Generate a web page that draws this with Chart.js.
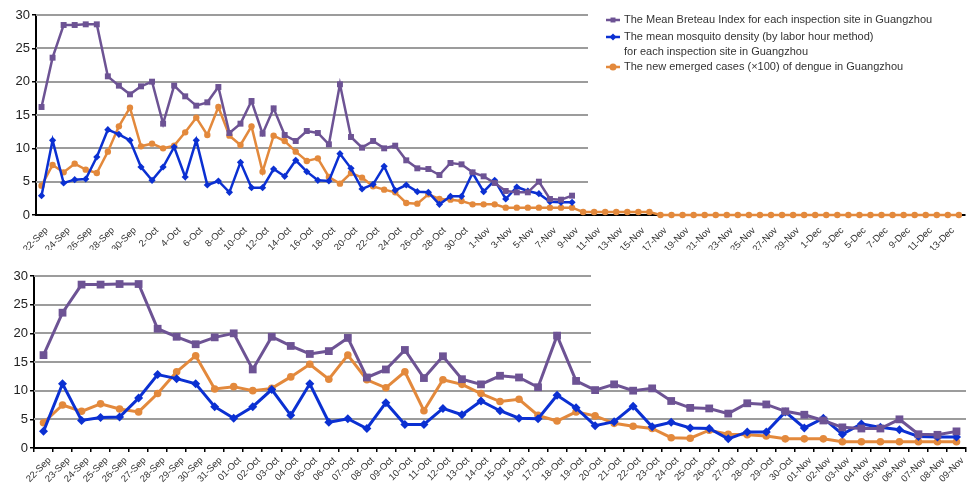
<!DOCTYPE html>
<html>
<head>
<meta charset="utf-8">
<script src="https://cdn.jsdelivr.net/npm/chart.js@4.4.1/dist/chart.umd.min.js"></script>
<style>
  body { margin: 0; background: #fff; }
  #top { position: absolute; left: 0; top: 0; width: 973px; height: 250px; }
  #bottom { position: absolute; left: 0; top: 250px; width: 973px; height: 244px; }
</style>
</head>
<body>
<div id="top"><canvas id="topChart"></canvas></div>
<div id="bottom"><canvas id="bottomChart"></canvas></div>
<script>
// categories of the upper (full period) panel
const topDates = [
  "22-Sep","23-Sep","24-Sep","25-Sep","26-Sep","27-Sep","28-Sep","29-Sep","30-Sep",
  "1-Oct","2-Oct","3-Oct","4-Oct","5-Oct","6-Oct","7-Oct","8-Oct","9-Oct","10-Oct",
  "11-Oct","12-Oct","13-Oct","14-Oct","15-Oct","16-Oct","17-Oct","18-Oct","19-Oct","20-Oct",
  "21-Oct","22-Oct","23-Oct","24-Oct","25-Oct","26-Oct","27-Oct","28-Oct","29-Oct","30-Oct","31-Oct",
  "1-Nov","2-Nov","3-Nov","4-Nov","5-Nov","6-Nov","7-Nov","8-Nov","9-Nov","10-Nov",
  "11-Nov","12-Nov","13-Nov","14-Nov","15-Nov","16-Nov","17-Nov","18-Nov","19-Nov","20-Nov",
  "21-Nov","22-Nov","23-Nov","24-Nov","25-Nov","26-Nov","27-Nov","28-Nov","29-Nov","30-Nov",
  "1-Dec","2-Dec","3-Dec","4-Dec","5-Dec","6-Dec","7-Dec","8-Dec","9-Dec","10-Dec",
  "11-Dec","12-Dec","13-Dec","14-Dec"
];

// categories of the lower (zoomed) panel, labelled as in the original
const bottomDates = [
  "22-Sep","23-Sep","24-Sep","25-Sep","26-Sep","27-Sep","28-Sep","29-Sep","30-Sep","31-Sep",
  "01-Oct","02-Oct","03-Oct","04-Oct","05-Oct","06-Oct","07-Oct","08-Oct","09-Oct","10-Oct",
  "11-Oct","12-Oct","13-Oct","14-Oct","15-Oct","16-Oct","17-Oct","18-Oct","19-Oct","20-Oct",
  "21-Oct","22-Oct","23-Oct","24-Oct","25-Oct","26-Oct","27-Oct","28-Oct","29-Oct","30-Oct",
  "01-Nov","02-Nov","03-Nov","04-Nov","05-Nov","06-Nov","07-Nov","08-Nov","09-Nov"
];

const breteauIndex = [
  16.2, 23.6, 28.5, 28.5, 28.6, 28.6, 20.8, 19.4, 18.1, 19.3,
  20.0, 13.7, 19.4, 17.8, 16.4, 16.9, 19.2, 12.3, 13.7, 17.1,
  12.2, 16.0, 12.0, 11.1, 12.6, 12.3, 10.6, 19.6, 11.7, 10.1,
  11.1, 10.0, 10.4, 8.2, 7.0, 6.9, 6.0, 7.8, 7.6, 6.4,
  5.8, 4.8, 3.6, 3.4, 3.4, 5.0, 2.4, 2.3, 2.9
];

const mosquitoDensity = [
  2.9, 11.2, 4.8, 5.3, 5.4, 8.7, 12.8, 12.1, 11.2, 7.2,
  5.2, 7.2, 10.2, 5.7, 11.2, 4.5, 5.1, 3.4, 7.9, 4.1,
  4.1, 6.9, 5.8, 8.2, 6.5, 5.2, 5.1, 9.2, 7.0, 3.9,
  4.6, 7.3, 3.7, 4.5, 3.5, 3.4, 1.6, 2.8, 2.8, 6.3,
  3.5, 5.2, 2.4, 4.2, 3.6, 3.2, 2.0, 1.9, 1.9
];

const newCases = [
  4.4, 7.5, 6.4, 7.7, 6.8, 6.3, 9.5, 13.3, 16.1, 10.3,
  10.7, 10.0, 10.4, 12.4, 14.6, 12.0, 16.2, 11.9, 10.5, 13.3,
  6.5, 11.9, 11.1, 9.5, 8.1, 8.5, 5.7, 4.7, 6.3, 5.6,
  4.3, 3.8, 3.4, 1.8, 1.7, 3.1, 2.4, 2.3, 2.1, 1.6,
  1.6, 1.6, 1.1, 1.1, 1.1, 1.1, 1.1, 1.1, 1.1
];

// new cases after 9-Nov (upper panel only)
const newCasesLater = [
  0.45, 0.45, 0.45, 0.45, 0.45, 0.45, 0.45,
  0, 0, 0, 0, 0, 0, 0, 0, 0, 0, 0, 0, 0, 0,
  0, 0, 0, 0, 0, 0, 0, 0, 0, 0, 0, 0, 0, 0
];

const yTicks = [0, 5, 10, 15, 20, 25, 30];

const legendLabels = [
  ["The Mean Breteau Index for each inspection site in Guangzhou"],
  ["The mean mosquito density (by labor hour method)", "for each inspection site in Guangzhou"],
  ["The new emerged cases (\u00d7100) of dengue in Guangzhou"]
];

const PURPLE = "#6d5394";
const BLUE = "#0b30d2";
const ORANGE = "#e3893c";
const FONT = "'Liberation Sans', Arial, sans-serif";

// horizontal grid lines that stop short where the legend box sat
const cutGrid = {
  id: "cutGrid",
  beforeDatasetsDraw(chart, args, opts) {
    const y = chart.scales.y, area = chart.chartArea, ctx = chart.ctx;
    ctx.save();
    ctx.strokeStyle = "#9c9c9c";
    ctx.lineWidth = 2;
    yTicks.forEach(v => {
      if (v === 0) return;
      const py = Math.round(y.getPixelForValue(v));
      const end = v >= opts.cutFrom ? opts.cutX : area.right;
      ctx.beginPath();
      ctx.moveTo(area.left, py);
      ctx.lineTo(end, py);
      ctx.stroke();
    });
    ctx.restore();
  }
};

const sideLegend = {
  id: "sideLegend",
  afterDraw(chart, args, opts) {
    if (!opts.show) return;
    const ctx = chart.ctx;
    ctx.save();
    ctx.textBaseline = "middle";
    ctx.textAlign = "left";
    ctx.font = "11px " + FONT;
    chart.data.datasets.forEach((ds, i) => {
      const y = opts.ys[i];
      ctx.strokeStyle = ds.borderColor;
      ctx.fillStyle = ds.borderColor;
      ctx.lineWidth = 2.5;
      ctx.beginPath();
      ctx.moveTo(opts.x, y);
      ctx.lineTo(opts.x + 14, y);
      ctx.stroke();
      Chart.helpers.drawPoint(ctx, { pointStyle: ds.pointStyle, radius: 3.5, borderWidth: 0 }, opts.x + 7, y);
      ctx.fillStyle = "#333";
      legendLabels[i].forEach((line, j) => ctx.fillText(line, opts.x + 18, y + j * 14.5));
    });
    ctx.restore();
  }
};

function makeDatasets(bi, mdi, cases, big) {
  const lw = big ? 3 : 2.5;
  return [
    { label: legendLabels[0].join(" "), data: bi, borderColor: PURPLE, backgroundColor: PURPLE,
      pointStyle: "rect", pointRadius: big ? 5.5 : 4.2, borderWidth: lw, pointBorderWidth: 0, clip: false },
    { label: legendLabels[1].join(" "), data: mdi, borderColor: BLUE, backgroundColor: BLUE,
      pointStyle: "rectRot", pointRadius: big ? 4.5 : 3.6, borderWidth: lw, pointBorderWidth: 0, clip: false },
    { label: legendLabels[2].join(" "), data: cases, borderColor: ORANGE, backgroundColor: ORANGE,
      pointStyle: "circle", pointRadius: big ? 3.8 : 3.2, borderWidth: lw, pointBorderWidth: 0, clip: false }
  ];
}

function makeOptions(cfg) {
  return {
    responsive: true,
    maintainAspectRatio: false,
    animation: false,
    devicePixelRatio: 1,
    layout: { padding: cfg.padding },
    plugins: {
      legend: { display: false },
      tooltip: { enabled: false },
      cutGrid: { cutFrom: cfg.cutFrom, cutX: cfg.cutX },
      sideLegend: { show: cfg.legend, x: 606, ys: [20, 37, 67] }
    },
    scales: {
      x: {
        offset: true,
        grid: { display: cfg.xTicks, offset: true, drawOnChartArea: false, tickLength: 4, color: "#000", lineWidth: 1.5 },
        border: { color: "#000", width: 2 },
        ticks: {
          autoSkip: false, maxRotation: 45, minRotation: 45,
          padding: cfg.xPad, labelOffset: cfg.labelOffset,
          color: "#333", font: { family: FONT, size: 9.5 },
          callback: cfg.xCallback
        },
        afterFit: s => { s.height = cfg.xHeight; }
      },
      y: {
        min: 0, max: 30,
        afterBuildTicks: s => { s.ticks = yTicks.map(v => ({ value: v })); },
        grid: { drawOnChartArea: false, tickLength: 4, color: "#000", lineWidth: 1.5 },
        border: { color: "#000", width: 2 },
        ticks: { padding: 2, color: "#222", font: { family: FONT, size: 13 } },
        afterFit: s => { s.width = cfg.yWidth; }
      }
    }
  };
}

Chart.register(cutGrid, sideLegend);

new Chart(document.getElementById("topChart"), {
  type: "line",
  data: {
    labels: topDates,
    datasets: makeDatasets(breteauIndex, mosquitoDensity, newCases.concat(newCasesLater), false)
  },
  options: makeOptions({
    padding: { top: 15, right: 8, left: 0, bottom: 0 },
    cutFrom: 0, cutX: 588, legend: true,
    xTicks: false, xPad: 6, labelOffset: 5, xHeight: 35, yWidth: 36,
    xCallback: (v, i) => (i % 2 === 0 ? topDates[i] : "")
  })
});

new Chart(document.getElementById("bottomChart"), {
  type: "line",
  data: {
    labels: bottomDates,
    datasets: makeDatasets(breteauIndex, mosquitoDensity, newCases, true)
  },
  options: makeOptions({
    padding: { top: 26, right: 7, left: 0, bottom: 0 },
    cutFrom: 15, cutX: 591, legend: false,
    xTicks: true, xPad: 3, labelOffset: 6, xHeight: 46, yWidth: 34,
    xCallback: (v, i) => bottomDates[i]
  })
});
</script>
</body>
</html>
